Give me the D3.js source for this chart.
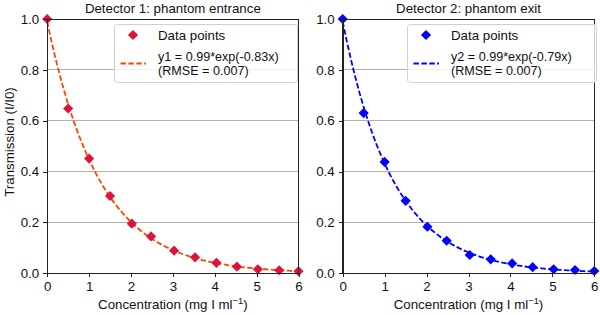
<!DOCTYPE html>
<meta charset="utf-8">
<style>
    body {
        margin: 0;
        font-family: "Liberation Sans", Arial, sans-serif;
    }

    .axis path,
    .axis line {
        stroke: #222;
        stroke-width: 1;
        shape-rendering: crispEdges;
    }

    .axis text {
        font-size: 13.3px;
        font-family: "Liberation Sans", Arial, sans-serif;
        fill: #111;
    }

    .grid line {
        stroke: #b0b0b0;
        stroke-width: 1;
        shape-rendering: crispEdges;
    }
</style>

<body>
    <script src="https://d3js.org/d3.v7.min.js"></script>
    <script>

        // concentration (mg I / ml) and measured transmission for both detectors
        var conc = [0, 0.5, 1.0, 1.5, 2.02, 2.48, 3.03, 3.53, 4.04, 4.53, 5.03, 5.54, 6.0];
        var trans1 = [1.0, 0.648, 0.451, 0.304, 0.195, 0.145, 0.089, 0.063, 0.041, 0.026, 0.016, 0.012, 0.008];
        var trans2 = [1.0, 0.630, 0.438, 0.285, 0.183, 0.128, 0.072, 0.055, 0.039, 0.024, 0.016, 0.013, 0.009];

        // exponential fit parameters (y = a * exp(-k x)) as drawn
        var fitA = [0.99, 0.99];
        var fitK = [0.795, 0.83];

        var titles = ["Detector 1: phantom entrance", "Detector 2: phantom exit"];
        var fitLabels = ["y1 = 0.99*exp(-0.83x)", "y2 = 0.99*exp(-0.79x)"];
        var rmseLabels = ["(RMSE = 0.007)", "(RMSE = 0.007)"];
        var xTicks = [0, 1, 2, 3, 4, 5, 6];
        var yTicks = [0.0, 0.2, 0.4, 0.6, 0.8, 1.0];

        var markerColors = ["#dc143c", "#0000ff"];
        var lineColors = ["#ff4500", "#0000ff"];

        var fs = "13.3px";

        var svg = d3.select("body")
            .append("svg")
            .attr("width", 600)
            .attr("height", 315);

        // plot areas of the two panels
        var panels = [
            { left: 47.2, right: 298.5, data: trans1, legendX: 114, legendW: 183 },
            { left: 342.7, right: 594.3, data: trans2, legendX: 407, legendW: 189 }
        ];
        var plotTop = 19, plotBottom = 273.3;

        panels.forEach(function (p, i) {
            var x = d3.scaleLinear().domain([0, 6]).range([p.left, p.right]);
            var y = d3.scaleLinear().domain([0, 1]).range([plotBottom, plotTop]);

            // horizontal grid
            svg.append("g")
                .attr("class", "grid")
                .selectAll("line")
                .data(yTicks)
                .enter().append("line")
                .attr("x1", p.left)
                .attr("x2", p.right)
                .attr("y1", function (d) { return y(d); })
                .attr("y2", function (d) { return y(d); });

            // fitted curve
            var curve = d3.range(0, 6.001, 0.05).map(function (c) {
                return [c, fitA[i] * Math.exp(-fitK[i] * c)];
            });
            svg.append("path")
                .datum(curve)
                .attr("fill", "none")
                .attr("stroke", lineColors[i])
                .attr("stroke-width", 1.8)
                .attr("stroke-dasharray", "5.5,2.4")
                .attr("d", d3.line()
                    .x(function (d) { return x(d[0]); })
                    .y(function (d) { return y(d[1]); }));

            // data points as diamonds
            var diamond = d3.symbol().type(d3.symbolSquare).size(52);
            svg.selectAll(".pt" + i)
                .data(conc.map(function (c, j) { return [c, p.data[j]]; }))
                .enter().append("path")
                .attr("class", "pt" + i)
                .attr("d", diamond)
                .attr("fill", markerColors[i])
                .attr("transform", function (d) {
                    return "translate(" + x(d[0]) + "," + y(d[1]) + ") rotate(45)";
                });

            // frame
            svg.append("rect")
                .attr("x", p.left)
                .attr("y", plotTop)
                .attr("width", p.right - p.left)
                .attr("height", plotBottom - plotTop)
                .attr("fill", "none")
                .attr("stroke", "#222")
                .attr("shape-rendering", "crispEdges");

            // axes
            svg.append("g")
                .attr("class", "axis")
                .attr("transform", "translate(0," + plotBottom + ")")
                .call(d3.axisBottom(x).tickValues(xTicks).tickFormat(d3.format("d"))
                    .tickSizeInner(4).tickSizeOuter(0).tickPadding(4));

            svg.append("g")
                .attr("class", "axis")
                .attr("transform", "translate(" + p.left + ",0)")
                .call(d3.axisLeft(y).tickValues(yTicks).tickFormat(d3.format(".1f"))
                    .tickSizeInner(4).tickSizeOuter(0).tickPadding(4));

            // title
            svg.append("text")
                .attr("x", (p.left + p.right) / 2)
                .attr("y", 12.5)
                .attr("text-anchor", "middle")
                .attr("font-size", fs)
                .attr("fill", "#111")
                .text(titles[i]);

            // x label
            var xl = svg.append("text")
                .attr("x", (p.left + p.right) / 2)
                .attr("y", 309)
                .attr("text-anchor", "middle")
                .attr("font-size", fs)
                .attr("fill", "#111");
            xl.append("tspan").text("Concentration (mg I ml");
            xl.append("tspan").attr("dy", -5).attr("font-size", "9.3px").text("\u22121");
            xl.append("tspan").attr("dy", 5).text(")");

            // legend
            var lg = svg.append("g").attr("transform", "translate(" + p.legendX + ",24)");
            lg.append("rect")
                .attr("x", 0.5)
                .attr("y", 0.5)
                .attr("width", p.legendW)
                .attr("height", 58)
                .attr("rx", 3)
                .attr("fill", "white")
                .attr("fill-opacity", 0.8)
                .attr("stroke", "#d0d0d0");
            var mx = 19;
            lg.append("path")
                .attr("d", diamond)
                .attr("fill", markerColors[i])
                .attr("transform", "translate(" + mx + ",11) rotate(45)");
            lg.append("line")
                .attr("x1", mx - 12.5)
                .attr("x2", mx + 13)
                .attr("y1", 39.5)
                .attr("y2", 39.5)
                .attr("stroke", lineColors[i])
                .attr("stroke-width", 1.8)
                .attr("stroke-dasharray", "5.5,2.4");
            var tx = mx + 25;
            lg.append("text").attr("x", tx).attr("y", 16)
                .attr("font-size", fs).attr("fill", "#111").text("Data points");
            lg.append("text").attr("x", tx).attr("y", 37.2)
                .attr("font-size", "12.6px").attr("fill", "#111").text(fitLabels[i]);
            lg.append("text").attr("x", tx).attr("y", 51.4)
                .attr("font-size", "12.6px").attr("fill", "#111").text(rmseLabels[i]);
        });

        // y label on the left panel only
        svg.append("text")
            .attr("transform", "translate(13.5,142) rotate(-90)")
            .attr("text-anchor", "middle")
            .attr("font-size", fs)
            .attr("fill", "#111")
            .text("Transmission (I/I0)");

    </script>
</body>
